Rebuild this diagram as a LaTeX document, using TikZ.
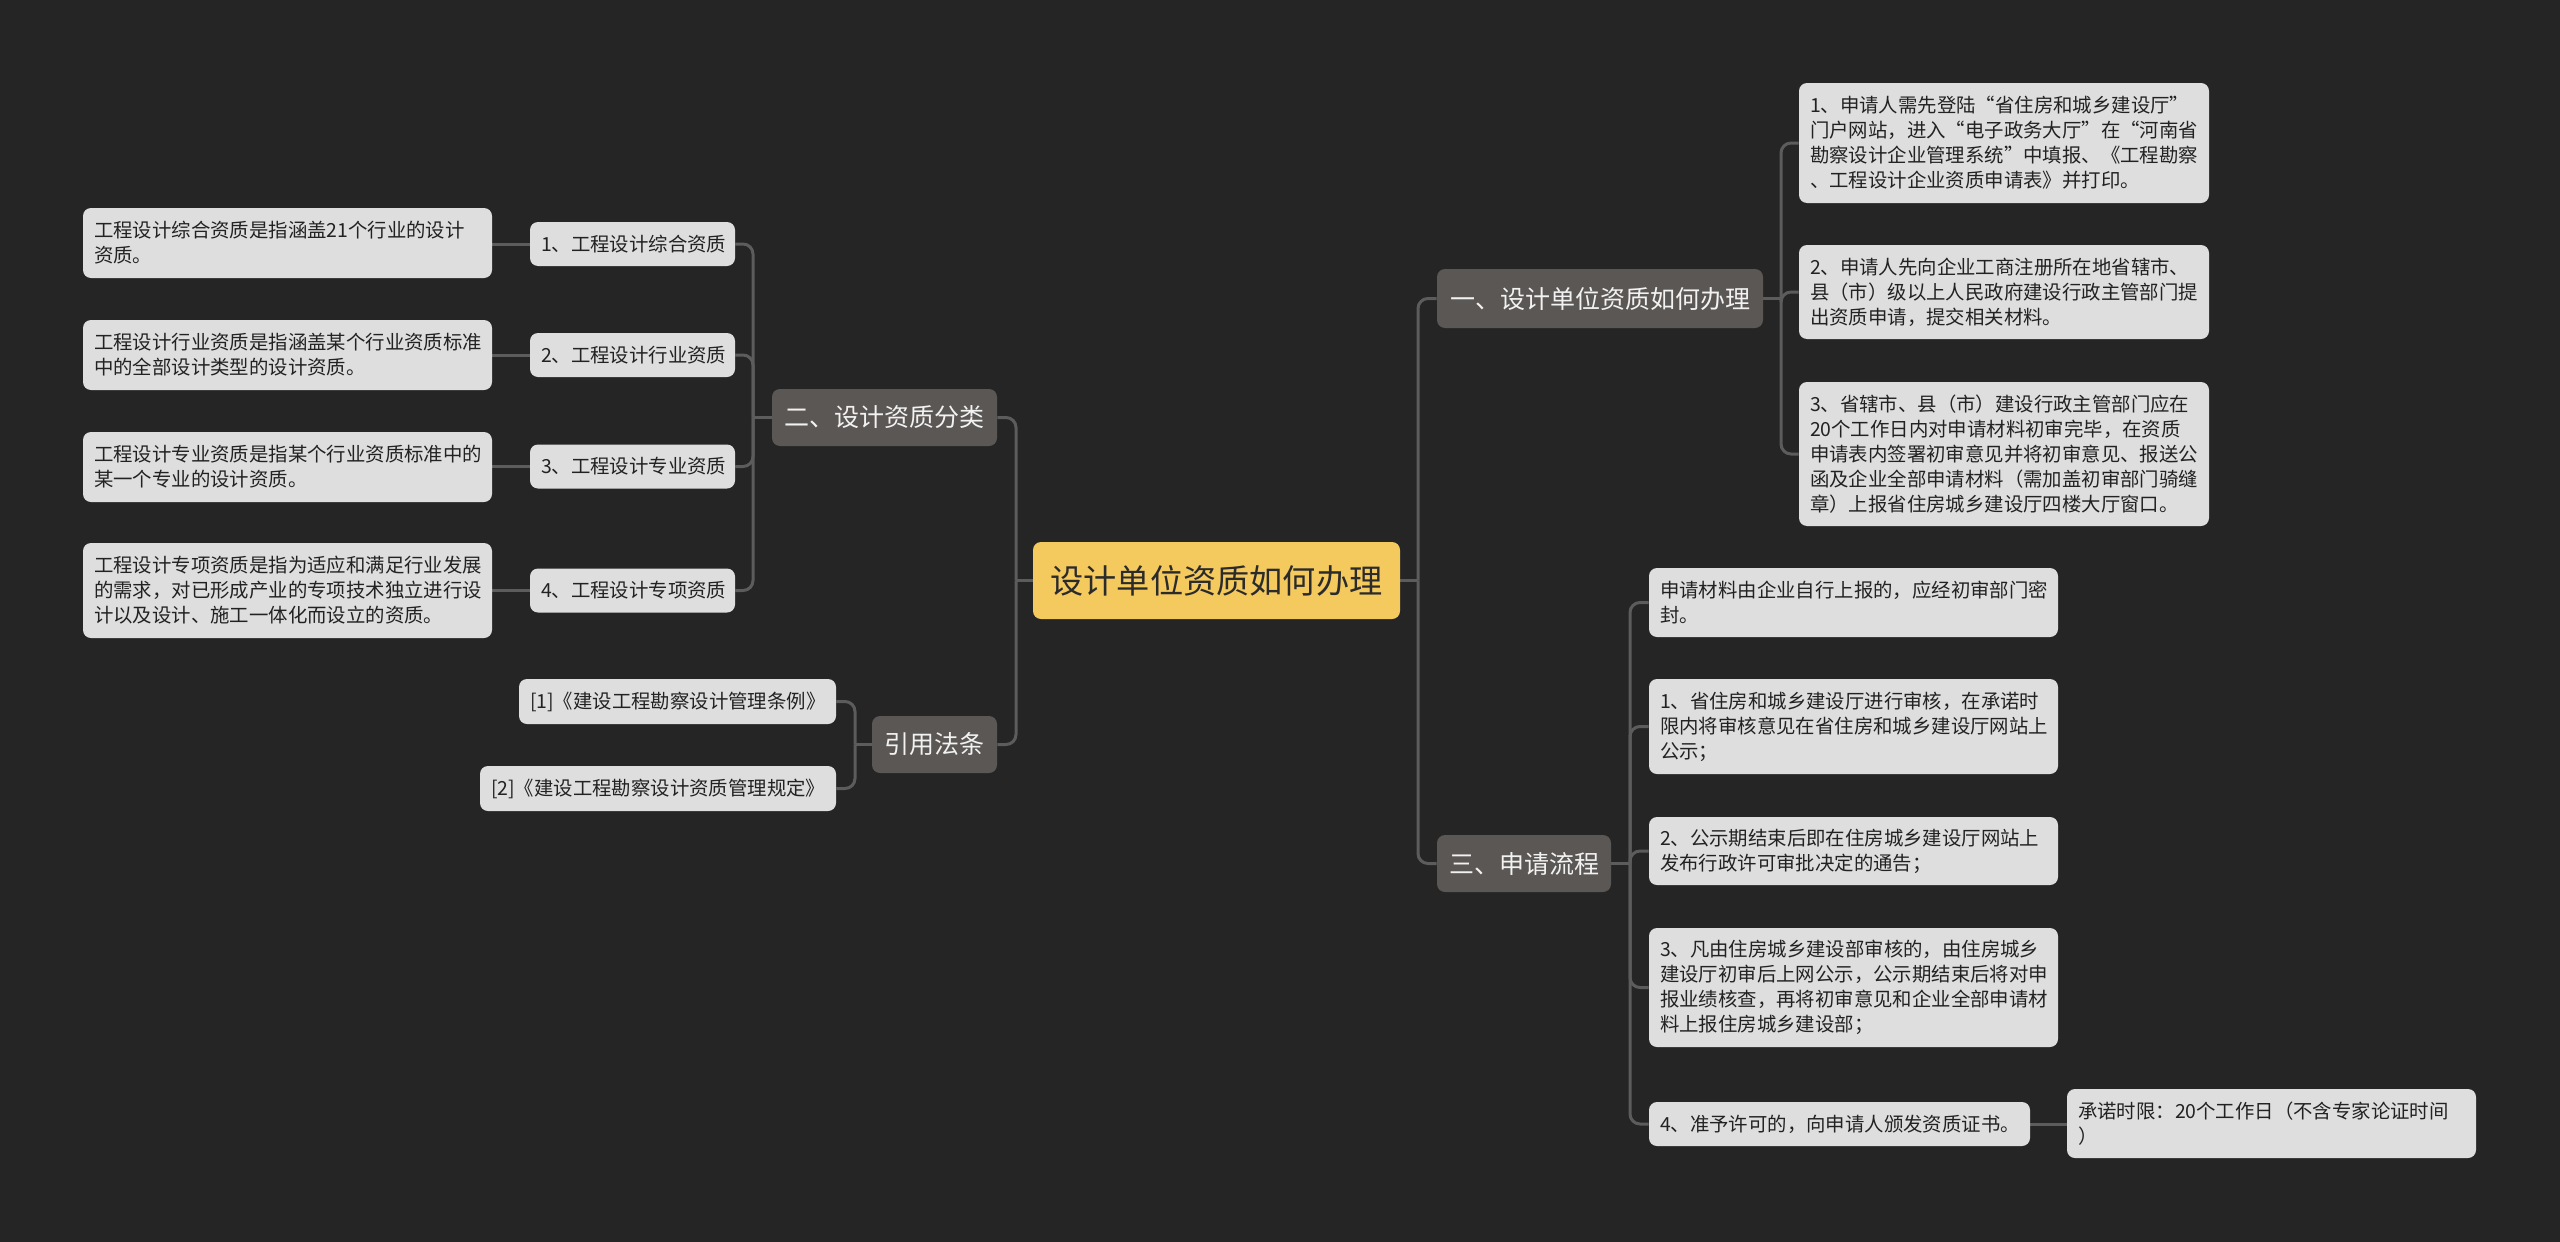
\documentclass[tikz,border=0pt]{standalone}
\usepackage{fontspec}
\setmainfont{Noto Sans CJK SC}
\definecolor{bg}{HTML}{252525}
\definecolor{connc}{HTML}{5C5C5C}
\definecolor{leafc}{HTML}{DEDEDE}
\definecolor{leaftext}{HTML}{222222}
\definecolor{brc}{HTML}{5B5755}
\definecolor{brtext}{HTML}{F2F2F2}
\definecolor{rootc}{HTML}{F4CA5E}
\definecolor{roottext}{HTML}{2B2B2B}
\pgfdeclarelayer{bglayer}
\pgfdeclarelayer{connlayer}
\pgfsetlayers{bglayer,connlayer,main}
\begin{document}
\begin{tikzpicture}[x=0.5pt,y=-0.5pt,
  box/.style={rounded corners=4pt, inner xsep=5.5pt, inner ysep=0pt, anchor=center},
  leaf/.style={box, fill=leafc, text=leaftext, font=\fontsize{9.7pt}{12.5pt}\selectfont, align=left},
  leafc/.style={leaf, align=center},
  branch/.style={box, fill=brc, text=brtext, font=\fontsize{12.5pt}{15pt}\selectfont, align=center},
  root/.style={box, fill=rootc, text=roottext, font=\fontsize{16.6pt}{20pt}\selectfont, align=center},
  conn/.style={draw=connc, line width=1.5pt, rounded corners=5pt}]
\begin{pgfonlayer}{bglayer}
\fill[bg] (0,0) rectangle (2560,1242);
\end{pgfonlayer}
\useasboundingbox (0,0) rectangle (2560,1242);

% trunk junctions
\coordinate (jR) at (1418,580.5);
\coordinate (jL) at (1016,580.5);
\coordinate (jB1) at (1781,298.5);
\coordinate (jB3) at (1630,863.5);
\coordinate (jB2) at (753,417.5);
\coordinate (jB4) at (855,744.5);

% root
\node[root, text width=172.5pt, minimum height=38.5pt] (c) at (1216.5,580.5) {设计单位资质如何办理};

% branches
\node[branch, text width=152pt, minimum height=29.5pt] (b1) at (1600,298.5) {一、设计单位资质如何办理};
\node[branch, text width=76pt, minimum height=28.5pt] (b3) at (1524,863.5) {三、申请流程};
\node[branch, text width=101.5pt, minimum height=28.5pt] (b2) at (884.5,417.5) {二、设计资质分类};
\node[branch, text width=51.5pt, minimum height=28.5pt] (b4) at (934.5,744.5) {引用法条};

% leaves of b1
\node[leaf, text width=194pt, minimum height=60pt] (r1) at (2004,143) {1、申请人需先登陆“省住房和城乡建设厅”\\门户网站，进入“电子政务大厅”在“河南省\\勘察设计企业管理系统”中填报、《工程勘察\\、工程设计企业资质申请表》并打印。};
\node[leaf, text width=194pt, minimum height=47pt] (r2) at (2004,292) {2、申请人先向企业工商注册所在地省辖市、\\县（市）级以上人民政府建设行政主管部门提\\出资质申请，提交相关材料。};
\node[leaf, text width=194pt, minimum height=72pt] (r3) at (2004,454) {3、省辖市、县（市）建设行政主管部门应在\\20个工作日内对申请材料初审完毕，在资质\\申请表内签署初审意见并将初审意见、报送公\\函及企业全部申请材料（需加盖初审部门骑缝\\章）上报省住房城乡建设厅四楼大厅窗口。};

% leaves of b3
\node[leaf, text width=193.5pt, minimum height=34.5pt] (s1) at (1853.5,602.5) {申请材料由企业自行上报的，应经初审部门密\\封。};
\node[leaf, text width=193.5pt, minimum height=47.5pt] (s2) at (1853.5,726.5) {1、省住房和城乡建设厅进行审核，在承诺时\\限内将审核意见在省住房和城乡建设厅网站上\\公示；};
\node[leaf, text width=193.5pt, minimum height=34pt] (s3) at (1853.5,851) {2、公示期结束后即在住房城乡建设厅网站上\\发布行政许可审批决定的通告；};
\node[leaf, text width=193.5pt, minimum height=59.5pt] (s4) at (1853.5,987.5) {3、凡由住房城乡建设部审核的，由住房城乡\\建设厅初审后上网公示，公示期结束后将对申\\报业绩核查，再将初审意见和企业全部申请材\\料上报住房城乡建设部；};
\node[leaf, text width=179.5pt, minimum height=22pt] (s5) at (1839.5,1124) {4、准予许可的，向申请人颁发资质证书。};
\node[leaf, text width=193.5pt, minimum height=34.5pt] (st) at (2271.5,1123.5) {承诺时限：20个工作日（不含专家论证时间\\）};

% items of b2
\node[leafc, text width=91.5pt, minimum height=22pt] (l1) at (632.5,244) {1、工程设计综合资质};
\node[leafc, text width=91.5pt, minimum height=22pt] (l2) at (632.5,355) {2、工程设计行业资质};
\node[leafc, text width=91.5pt, minimum height=22pt] (l3) at (632.5,466.5) {3、工程设计专业资质};
\node[leafc, text width=91.5pt, minimum height=22pt] (l4) at (632.5,590.5) {4、工程设计专项资质};

\node[leaf, text width=193.5pt, minimum height=35pt] (d1) at (287.5,243) {工程设计综合资质是指涵盖21个行业的设计\\资质。};
\node[leaf, text width=193.5pt, minimum height=35pt] (d2) at (287.5,355) {工程设计行业资质是指涵盖某个行业资质标准\\中的全部设计类型的设计资质。};
\node[leaf, text width=193.5pt, minimum height=35pt] (d3) at (287.5,467) {工程设计专业资质是指某个行业资质标准中的\\某一个专业的设计资质。};
\node[leaf, text width=193.5pt, minimum height=47.5pt] (d4) at (287.5,590.5) {工程设计专项资质是指为适应和满足行业发展\\的需求，对已形成产业的专项技术独立进行设\\计以及设计、施工一体化而设立的资质。};

% items of b4
\node[leafc, text width=147.5pt, minimum height=22.5pt] (f1) at (677.5,701.5) {[1]《建设工程勘察设计管理条例》};
\node[leafc, text width=167pt, minimum height=22.5pt] (f2) at (658,788.5) {[2]《建设工程勘察设计资质管理规定》};

% connectors
\begin{pgfonlayer}{connlayer}
\draw[conn] (c.east) -- (jR);
\draw[conn] (jR) |- (b1.west);
\draw[conn] (jR) |- (b3.west);
\draw[conn] (c.west) -- (jL);
\draw[conn] (jL) |- (b2.east);
\draw[conn] (jL) |- (b4.east);

\draw[conn] (b1.east) -- (jB1);
\draw[conn] (jB1) |- (r1.west);
\draw[conn] (jB1) |- (r2.west);
\draw[conn] (jB1) |- (r3.west);

\draw[conn] (b3.east) -- (jB3);
\draw[conn] (jB3) |- (s1.west);
\draw[conn] (jB3) |- (s2.west);
\draw[conn] (jB3) |- (s3.west);
\draw[conn] (jB3) |- (s4.west);
\draw[conn] (jB3) |- (s5.west);
\draw[conn] (s5.east) -- (st.west |- s5.east);

\draw[conn] (b2.west) -- (jB2);
\draw[conn] (jB2) |- (l1.east);
\draw[conn] (jB2) |- (l2.east);
\draw[conn] (jB2) |- (l3.east);
\draw[conn] (jB2) |- (l4.east);
\draw[conn] (l1.west) -- (d1.east |- l1.west);
\draw[conn] (l2.west) -- (d2.east |- l2.west);
\draw[conn] (l3.west) -- (d3.east |- l3.west);
\draw[conn] (l4.west) -- (d4.east |- l4.west);

\draw[conn] (b4.west) -- (jB4);
\draw[conn] (jB4) |- (f1.east);
\draw[conn] (jB4) |- (f2.east);
\end{pgfonlayer}
\end{tikzpicture}
\end{document}
